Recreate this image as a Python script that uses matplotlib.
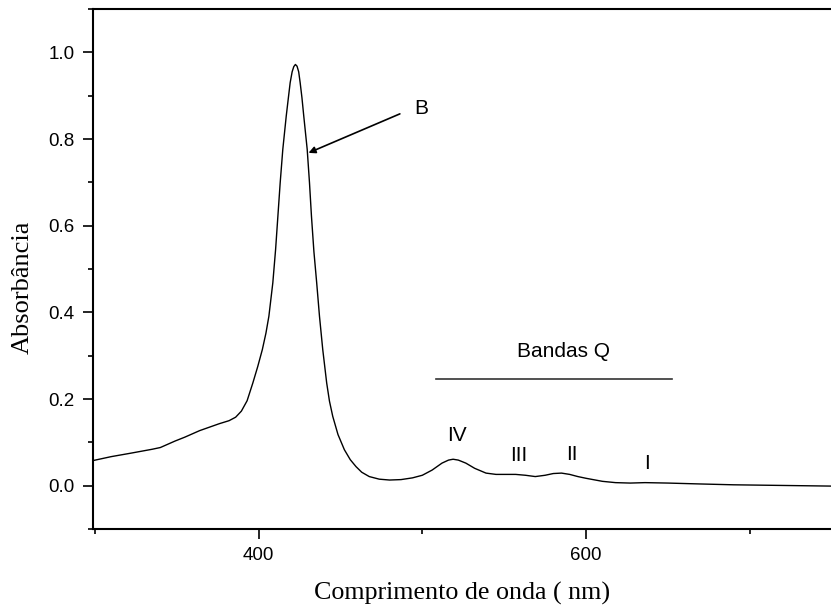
import matplotlib
matplotlib.use("Agg")
import matplotlib.pyplot as plt
from matplotlib.ticker import MultipleLocator

# espectro UV-Vis (porfirina): comprimento de onda (nm) e absorbância
wavelength = [299, 310, 322, 335, 340, 349, 355, 364, 376, 382, 386, 389.5,
              393, 396.5, 399.5, 402.3, 404.5, 406.3, 408.7, 410.4, 411.8,
              413.2, 414.8, 416.9, 418.2, 419.3, 420.5, 421.5, 422.5, 423.5,
              424.5, 425.4, 426.5, 427.6, 429.7, 431.1, 432.3, 433.8,
              435.5, 437.2, 439.2, 441.6, 443.3, 445.3, 448.5, 452.4, 456,
              459.5, 463, 467.6, 473.7, 480, 487, 494, 500, 506, 512, 516,
              518.8, 522, 526.6, 532, 538.9, 545, 557, 563, 569, 575, 580,
              585, 590, 595, 600, 610, 618, 627, 636, 650, 669, 690, 710, 730,
              750]
absorbance = [0.058, 0.067, 0.075, 0.084, 0.088, 0.103, 0.112, 0.127, 0.143,
              0.150, 0.158, 0.172, 0.196, 0.237, 0.275, 0.314, 0.352, 0.391,
              0.468, 0.545, 0.622, 0.699, 0.776, 0.853, 0.895, 0.930, 0.955,
              0.967, 0.972, 0.968, 0.955, 0.930, 0.895, 0.853, 0.776, 0.699,
              0.622, 0.540, 0.468, 0.391, 0.314, 0.237, 0.195, 0.160,
              0.118, 0.083, 0.060, 0.044, 0.031, 0.021, 0.015, 0.013, 0.014,
              0.018, 0.024, 0.036, 0.052, 0.059, 0.061, 0.059, 0.052, 0.040,
              0.029, 0.026, 0.026, 0.024, 0.021, 0.024, 0.028, 0.029, 0.026,
              0.021, 0.017, 0.010, 0.007, 0.006, 0.007, 0.006, 0.004, 0.002,
              0.001, 0.000, -0.001]

# rótulos das bandas Q: (texto, x, y)
q_labels = [("IV", 521.0, 0.115), ("III", 559.0, 0.069),
            ("II", 591.5, 0.073), ("I", 637.2, 0.052)]
q_bar = (508.2, 652.4, 0.2466)
q_title = (586.0, 0.31)
b_label = (499.5, 0.87)
b_tail = (486.3, 0.858)
b_head = (430.5, 0.768)

W, H = 831, 605
fig = plt.figure(figsize=(W / 100, H / 100), dpi=100)
left, right, top, bottom = 92.7, 831, 9, 529
ax = fig.add_axes([left / W, (H - bottom) / H, (right - left) / W, (bottom - top) / H])

ax.plot(wavelength, absorbance, color="black", lw=1.0)

ax.set_xlim(298.7, 749.6)
ax.set_ylim(-0.1, 1.1)
ax.xaxis.set_major_locator(MultipleLocator(200))
ax.xaxis.set_minor_locator(MultipleLocator(100))
ax.yaxis.set_major_locator(MultipleLocator(0.2))
ax.yaxis.set_minor_locator(MultipleLocator(0.1))
ax.yaxis.set_major_formatter(plt.FormatStrFormatter("%.1f"))

ax.spines["right"].set_visible(False)
for sp in ["left", "bottom", "top"]:
    ax.spines[sp].set_linewidth(1.5)
ax.tick_params(which="major", direction="out", length=7, width=1.2,
               labelsize=13.5, pad=6)
ax.tick_params(which="minor", direction="out", length=3.5, width=1.2)
ax.tick_params(top=False, right=False, which="both")
for lbl in ax.get_xticklabels() + ax.get_yticklabels():
    lbl.set_family("Liberation Sans")

ax.set_xlabel("Comprimento de onda ( nm)", family="Liberation Serif",
              fontsize=18.7, labelpad=13)
ax.set_ylabel("Absorbância", family="Liberation Serif", fontsize=19)
ax.yaxis.set_label_coords((34 - left) / (right - left), (bottom - 287) / (bottom - top))

txt = dict(family="Liberation Sans", fontsize=15, ha="center", va="center")
ax.text(b_label[0], b_label[1], "B", **txt)
ax.annotate("", xy=b_head, xytext=b_tail,
            arrowprops=dict(arrowstyle="-|>", color="black", lw=1.2,
                            mutation_scale=10, shrinkA=0, shrinkB=0))
ax.text(q_title[0], q_title[1], "Bandas Q", **txt)
ax.plot([q_bar[0], q_bar[1]], [q_bar[2], q_bar[2]], color="#333333", lw=1.2)
for name, x, y in q_labels:
    ax.text(x, y, name, **txt)

fig.savefig("out.png", dpi=100)
